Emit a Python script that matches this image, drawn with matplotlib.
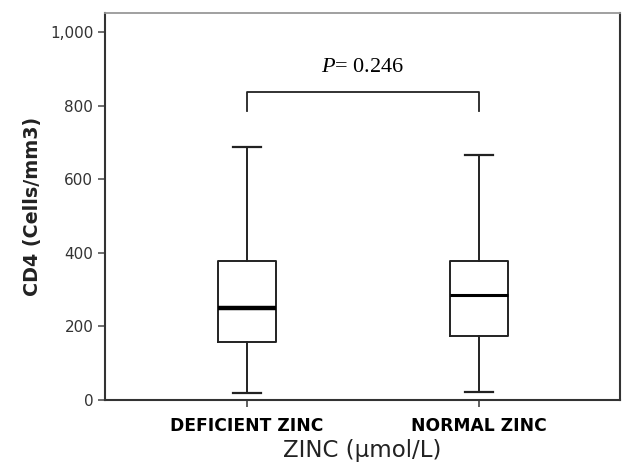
import matplotlib.pyplot as plt
from matplotlib.ticker import FuncFormatter

plt.rcParams["font.family"] = ["DejaVu Sans"]
plt.rcParams["mathtext.fontset"] = "custom"
plt.rcParams["mathtext.it"] = "Liberation Serif:italic"
plt.rcParams["mathtext.rm"] = "Liberation Serif"

groups = ["DEFICIENT ZINC", "NORMAL ZINC"]
whis_lo = [20, 21]
q1 = [157, 175]
median = [250, 284]
q3 = [379, 379]
whis_hi = [689, 665]
p_value = "0.246"

fig = plt.figure(figsize=(6.22, 4.65), dpi=100)
ax = fig.add_axes([0.169, 0.140, 0.828, 0.832])

stats = []
for i in range(len(groups)):
    stats.append({"whislo": whis_lo[i], "q1": q1[i], "med": median[i],
                  "q3": q3[i], "whishi": whis_hi[i], "fliers": []})

pos = [1, 2]
bp = ax.bxp(stats, positions=pos, widths=0.25, capwidths=0.12, showfliers=False,
            boxprops=dict(color="#222222", lw=1.4),
            whiskerprops=dict(color="#222222", lw=1.4),
            capprops=dict(color="#222222", lw=1.6),
            medianprops=dict(color="black", lw=2.2))
bp["medians"][0].set_linewidth(3.2)

ax.set_xlim(0.391, 2.606)
ax.set_ylim(0, 1052)
ax.set_yticks([0, 200, 400, 600, 800, 1000])
ax.yaxis.set_major_formatter(FuncFormatter(lambda v, p: f"{int(v):,}"))
ax.set_xticks(pos)
ax.set_xticklabels(groups, fontsize=12.3, fontweight="bold")
ax.tick_params(axis="y", labelsize=11, labelcolor="#333333", color="#555555", length=5, width=1.2)
ax.tick_params(axis="x", color="#444444", length=5, width=1.2, pad=7)

for s in ["left", "right", "bottom"]:
    ax.spines[s].set_color("#333333")
    ax.spines[s].set_linewidth(1.5)
ax.spines["top"].set_color("#999999")
ax.spines["top"].set_linewidth(1.3)

ax.set_ylabel("CD4 (Cells/mm3)", fontsize=13.8, fontweight="bold", color="#222222", labelpad=6)
ax.set_xlabel("ZINC (\u00b5mol/L)", fontsize=16.5, color="#222222", labelpad=3)

# significance bracket
ax.plot([pos[0], pos[0], pos[1], pos[1]], [785, 838, 838, 785], color="#222222", lw=1.3)
ax.text(1.5, 905, "$P$= " + p_value, ha="center", va="center", fontsize=16,
        family="Liberation Serif")

fig.savefig("out.png", dpi=100)
